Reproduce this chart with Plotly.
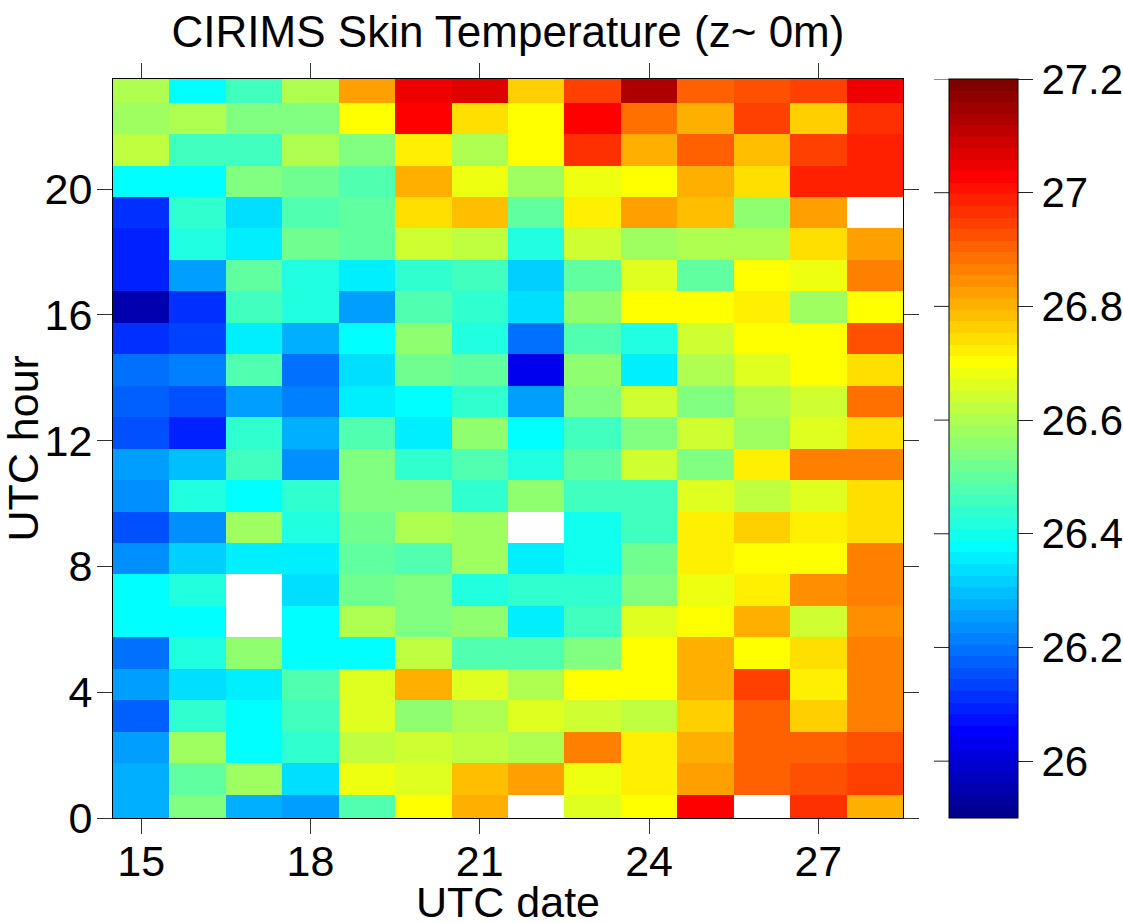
import plotly.graph_objects as go

# UTC dates (columns) and hours (rows) of the CIRIMS skin temperature record
dates = list(range(15, 29))
hours = list(range(24))

# Hourly mean skin temperature (deg C), one list per UTC hour, dates 15..28; None = no data
t_h00 = [26.28, 26.54, 26.28, 26.26, 26.48, 26.70, 26.80, None, 26.66, 26.70, 27.03, None, 26.97, 26.80]
t_h01 = [26.28, 26.50, 26.58, 26.34, 26.68, 26.66, 26.78, 26.82, 26.68, 26.72, 26.82, 26.91, 26.93, 26.95]
t_h02 = [26.26, 26.58, 26.38, 26.44, 26.62, 26.64, 26.62, 26.60, 26.86, 26.72, 26.80, 26.91, 26.91, 26.93]
t_h03 = [26.17, 26.44, 26.38, 26.46, 26.66, 26.56, 26.60, 26.66, 26.64, 26.62, 26.76, 26.91, 26.76, 26.86]
t_h04 = [26.26, 26.34, 26.36, 26.48, 26.66, 26.80, 26.66, 26.60, 26.70, 26.70, 26.80, 26.95, 26.72, 26.86]
t_h05 = [26.19, 26.42, 26.56, 26.38, 26.38, 26.62, 26.48, 26.48, 26.54, 26.70, 26.80, 26.70, 26.74, 26.86]
t_h06 = [26.38, 26.38, None, 26.38, 26.60, 26.54, 26.56, 26.36, 26.46, 26.66, 26.70, 26.80, 26.64, 26.84]
t_h07 = [26.38, 26.42, None, 26.34, 26.52, 26.54, 26.42, 26.44, 26.44, 26.54, 26.68, 26.72, 26.84, 26.86]
t_h08 = [26.24, 26.32, 26.36, 26.36, 26.50, 26.48, 26.58, 26.36, 26.40, 26.52, 26.72, 26.70, 26.70, 26.86]
t_h09 = [26.15, 26.24, 26.58, 26.42, 26.52, 26.60, 26.58, None, 26.40, 26.46, 26.72, 26.76, 26.72, 26.74]
t_h10 = [26.24, 26.42, 26.38, 26.44, 26.54, 26.54, 26.44, 26.56, 26.46, 26.46, 26.66, 26.62, 26.66, 26.74]
t_h11 = [26.26, 26.30, 26.46, 26.24, 26.54, 26.44, 26.48, 26.42, 26.50, 26.64, 26.54, 26.72, 26.86, 26.86]
t_h12 = [26.15, 26.09, 26.44, 26.28, 26.48, 26.36, 26.56, 26.38, 26.46, 26.54, 26.64, 26.58, 26.66, 26.74]
t_h13 = [26.17, 26.15, 26.26, 26.21, 26.36, 26.38, 26.44, 26.26, 26.54, 26.64, 26.54, 26.60, 26.64, 26.89]
t_h14 = [26.19, 26.21, 26.48, 26.19, 26.34, 26.52, 26.50, 26.03, 26.56, 26.36, 26.60, 26.66, 26.70, 26.74]
t_h15 = [26.11, 26.13, 26.36, 26.28, 26.38, 26.56, 26.42, 26.19, 26.48, 26.42, 26.64, 26.70, 26.70, 26.93]
t_h16 = [25.95, 26.11, 26.46, 26.42, 26.26, 26.48, 26.44, 26.34, 26.56, 26.70, 26.70, 26.72, 26.58, 26.70]
t_h17 = [26.09, 26.26, 26.50, 26.42, 26.36, 26.44, 26.46, 26.32, 26.50, 26.66, 26.50, 26.70, 26.68, 26.86]
t_h18 = [26.09, 26.42, 26.36, 26.52, 26.50, 26.64, 26.62, 26.42, 26.64, 26.58, 26.60, 26.60, 26.74, 26.82]
t_h19 = [26.11, 26.44, 26.34, 26.48, 26.50, 26.74, 26.78, 26.50, 26.72, 26.82, 26.78, 26.56, 26.82, None]
t_h20 = [26.38, 26.38, 26.54, 26.52, 26.48, 26.80, 26.68, 26.58, 26.68, 26.70, 26.80, 26.74, 26.99, 26.99]
t_h21 = [26.62, 26.46, 26.46, 26.60, 26.54, 26.72, 26.60, 26.70, 26.97, 26.80, 26.91, 26.78, 26.95, 26.99]
t_h22 = [26.58, 26.60, 26.54, 26.54, 26.70, 27.03, 26.74, 26.70, 27.03, 26.89, 26.80, 26.95, 26.76, 26.97]
t_h23 = [26.60, 26.38, 26.46, 26.60, 26.82, 27.05, 27.07, 26.76, 26.95, 27.13, 26.91, 26.93, 26.95, 27.05]

temps = [t_h00, t_h01, t_h02, t_h03, t_h04, t_h05, t_h06, t_h07, t_h08, t_h09, t_h10, t_h11,
         t_h12, t_h13, t_h14, t_h15, t_h16, t_h17, t_h18, t_h19, t_h20, t_h21, t_h22, t_h23]

# colour limits and colorbar ticks
t_min, t_max = 25.9, 27.2
cbar_ticks = [26.0, 26.2, 26.4, 26.6, 26.8, 27.0, 27.2]
cbar_text = ["26", "26.2", "26.4", "26.6", "26.8", "27", "27.2"]
x_ticks = [15, 18, 21, 24, 27]
y_ticks = [0, 4, 8, 12, 16, 20]


def jet(n=64):
    """MATLAB-style jet colormap with n entries."""
    m = n // 4
    u = [k / m for k in range(1, m + 1)] + [1.0] * (m - 1) + [k / m for k in range(m, 0, -1)]
    g = [m // 2 + k for k in range(1, len(u) + 1)]
    r = [v + m for v in g]
    b = [v - m for v in g]
    J = [[0.0, 0.0, 0.0] for _ in range(n)]
    rr = [v for v in r if v <= n]
    gg = [v for v in g if v <= n]
    bb = [v for v in b if v >= 1]
    for k, v in enumerate(rr):
        J[v - 1][0] = u[k]
    for k, v in enumerate(gg):
        J[v - 1][1] = u[k]
    off = len(u) - len(bb)
    for k, v in enumerate(bb):
        J[v - 1][2] = u[off + k]
    return J


# stepped colorscale: 64 flat bands
cmap = jet(64)
colorscale = []
for k, (r, g, b) in enumerate(cmap):
    c = f"rgb({round(r * 255)},{round(g * 255)},{round(b * 255)})"
    colorscale.append([k / 64, c])
    colorscale.append([(k + 1) / 64, c])

FONT = "Liberation Sans, Arial, Helvetica, sans-serif"
W, H = 1123, 923
ML, MR, MT, MB = 113, 220, 79, 105
plot_w = W - ML - MR
cbar_left = 949

fig = go.Figure()
fig.add_trace(go.Heatmap(
    z=temps,
    x=dates,
    y=[h + 0.25 for h in hours],
    zmin=t_min, zmax=t_max,
    colorscale=colorscale,
    hoverongaps=False,
    colorbar=dict(
        x=cbar_left / W, xref="container", xanchor="left", xpad=0,
        y=0.5, yanchor="middle", len=1, lenmode="fraction", ypad=0,
        thickness=69, thicknessmode="pixels",
        outlinewidth=1, outlinecolor="black",
        tickvals=cbar_ticks, ticktext=cbar_text,
        ticks="outside", ticklen=15, tickwidth=1, tickcolor="#222",
        tickfont=dict(family=FONT, size=42, color="black"),
    ),
))

# empty trace that carries the temperature axis used for the colorbar's left ticks
fig.add_trace(go.Scatter(x=[], y=[], yaxis="y2", showlegend=False, hoverinfo="skip"))

for v in cbar_ticks:
    fig.add_shape(type="line", xref="paper", yref="y2",
                  x0=(cbar_left - 15 - ML) / plot_w, x1=(cbar_left - ML) / plot_w,
                  y0=v, y1=v, line=dict(color="#222", width=1))

axis_common = dict(
    ticks="outside", ticklen=15, tickwidth=1, tickcolor="#333",
    showline=True, linecolor="black", linewidth=1, mirror="ticks",
    showgrid=False, zeroline=False,
    tickfont=dict(family=FONT, size=43, color="black"),
)

title_font = dict(family=FONT, size=43, color="black")

fig.update_layout(
    width=W, height=H,
    margin=dict(l=ML, r=MR, t=MT, b=MB, autoexpand=False),
    paper_bgcolor="white", plot_bgcolor="white",
    font=dict(family=FONT, color="black"),
    title=dict(text="CIRIMS Skin Temperature (z~ 0m)", x=0.5, xref="paper", xanchor="center",
               y=1 - 32 / H, yref="container", yanchor="middle",
               font=dict(family=FONT, size=44, color="black")),
    xaxis=dict(range=[14.5, 28.5], tickvals=x_ticks, ticklabelstandoff=-10, **axis_common),
    yaxis=dict(range=[0, 23.5], tickvals=y_ticks, ticklabelstandoff=-4, **axis_common),
    yaxis2=dict(range=[t_min, t_max], overlaying="y", visible=False),
    showlegend=False,
    annotations=[
        dict(text="UTC date", xref="paper", yref="paper", x=0.5, y=-(902 - (H - MB)) / (H - MT - MB),
             xanchor="center", yanchor="middle", showarrow=False, font=title_font),
        dict(text="UTC hour", xref="paper", yref="paper", x=-(ML - 22) / plot_w, y=0.5,
             xanchor="center", yanchor="middle", textangle=-90, showarrow=False, font=title_font),
    ],
)

fig.write_html("out.html")
